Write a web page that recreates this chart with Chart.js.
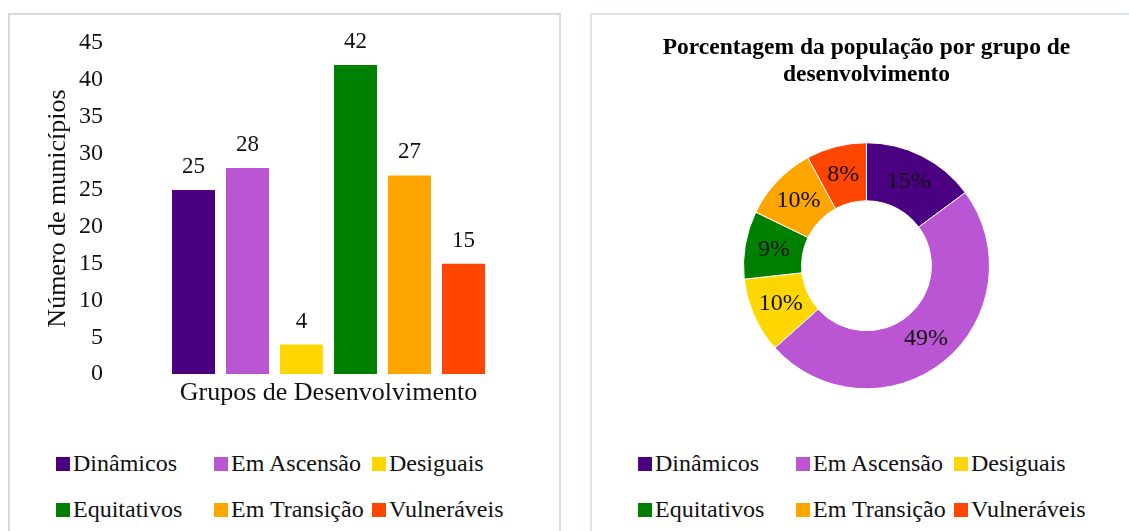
<!DOCTYPE html>
<html>
<head>
<meta charset="utf-8">
<script src="https://cdn.jsdelivr.net/npm/chart.js@4.4.1/dist/chart.umd.min.js"></script>
<style>
html, body { margin: 0; padding: 0; background: #fff; overflow: hidden; width: 1129px; height: 531px; }
.box { position: absolute; top: 13px; height: 600px; box-sizing: border-box; }
#boxL { left: 8px; width: 553px; border: 2px solid #d9d9d9; }
#boxR { left: 590px; width: 600px; border: 2px solid #dfe4ec; }
canvas { position: absolute; top: 0; }
#barChart { left: 0; }
#pieChart { left: 600px; }
.leg { position: absolute; font-family: "Liberation Serif", "Times New Roman", serif; font-size: 24px; line-height: 24px; color: #111; white-space: nowrap; }
.sw { position: absolute; width: 14px; height: 14px; }
</style>
</head>
<body>
<div class="box" id="boxL"></div>
<div class="box" id="boxR"></div>
<canvas id="barChart" width="570" height="440"></canvas>
<canvas id="pieChart" width="529" height="440"></canvas>
<div id="legends"></div>

<script>
// data
const groups = ["Dinâmicos", "Em Ascensão", "Desiguais", "Equitativos", "Em Transição", "Vulneráveis"];
const municipios = [25, 28, 4, 42, 27, 15];
const populacao = [15, 49, 10, 9, 10, 8];
const yMin = 0, yMax = 45, yStep = 5;

const colors = ["#4B0082", "#BA55D3", "#FFD700", "#008000", "#FFA500", "#FF4500"];
const serif = "'Liberation Serif', 'Times New Roman', serif";
const ink = "#111";


// value labels above the bars
const valueLabels = {
    id: "valueLabels",
    afterDatasetsDraw(chart) {
        const ctx = chart.ctx;
        ctx.save();
        ctx.font = "23px " + serif;
        ctx.fillStyle = ink;
        ctx.textAlign = "center";
        ctx.textBaseline = "alphabetic";
        chart.data.datasets.forEach((ds, i) => {
            const bar = chart.getDatasetMeta(i).data[0];
            ctx.fillText(ds.data[0], bar.x, bar.y - 17);
        });
        ctx.restore();
    }
};

// percent labels in the ring
const sliceLabels = {
    id: "sliceLabels",
    afterDatasetsDraw(chart) {
        const ctx = chart.ctx;
        ctx.save();
        ctx.font = "24px " + serif;
        ctx.fillStyle = ink;
        ctx.textAlign = "center";
        ctx.textBaseline = "middle";
        chart.getDatasetMeta(0).data.forEach((arc, i) => {
            const p = arc.getCenterPoint();
            ctx.fillText(populacao[i] + "%", p.x, p.y);
        });
        ctx.restore();
    }
};


// BAR CHART
new Chart(document.getElementById("barChart"), {
    type: "bar",
    data: {
        labels: ["Grupos de Desenvolvimento"],
        datasets: groups.map((g, i) => ({
            label: g,
            data: [municipios[i]],
            backgroundColor: colors[i],
            categoryPercentage: 0.7414,
            barPercentage: 0.796
        }))
    },
    options: {
        responsive: false,
        animation: false,
        layout: { padding: { left: 0, right: 23, top: 43, bottom: 31.4 } },
        plugins: {
            legend: { display: false },
            tooltip: { enabled: false }
        },
        scales: {
            x: {
                grid: { display: false, drawTicks: false },
                border: { display: false },
                ticks: { display: false },
                title: {
                    display: true,
                    text: "Grupos de Desenvolvimento",
                    color: ink,
                    font: { family: serif, size: 26 },
                    padding: { top: 3.4, bottom: 0 }
                }
            },
            y: {
                min: yMin,
                max: yMax,
                grid: { display: false, drawTicks: false },
                border: { display: false },
                ticks: {
                    stepSize: yStep,
                    padding: 7,
                    color: ink,
                    font: { family: serif, size: 24 }
                },
                title: {
                    display: true,
                    text: "Número de municípios",
                    color: ink,
                    font: { family: serif, size: 26 },
                    padding: { top: 42.4, bottom: 0 }
                },
                afterFit(axis) { axis.width = 110; }
            }
        }
    },
    plugins: [valueLabels]
});


// DOUGHNUT CHART
new Chart(document.getElementById("pieChart"), {
    type: "doughnut",
    data: {
        labels: groups,
        datasets: [{
            data: populacao,
            backgroundColor: colors,
            borderColor: "#fff",
            borderWidth: 1
        }]
    },
    options: {
        responsive: false,
        animation: false,
        radius: 123,
        cutout: "52.8%",
        layout: { padding: { left: 4, right: 0, top: 0, bottom: 7 } },
        plugins: {
            legend: { display: false },
            tooltip: { enabled: false },
            title: {
                display: true,
                text: ["Porcentagem da população por grupo de", "desenvolvimento"],
                color: "#000",
                font: { family: serif, size: 23.5, weight: "bold", lineHeight: 1.15 },
                padding: { top: 34.5, bottom: 10 }
            }
        }
    },
    plugins: [sliceLabels]
});


// legends (two rows of three, columns aligned)
function buildLegend(left) {
    const holder = document.getElementById("legends");
    groups.forEach((g, i) => {
        const col = i % 3, row = Math.floor(i / 3);
        const x = left + col * 158;

        const sw = document.createElement("span");
        sw.className = "sw";
        sw.style.background = colors[i];
        sw.style.left = x + "px";
        sw.style.top = (457 + row * 46) + "px";
        holder.appendChild(sw);

        const tx = document.createElement("span");
        tx.className = "leg";
        tx.textContent = g;
        tx.style.left = (x + 17) + "px";
        tx.style.top = (450.6 + row * 46) + "px";
        holder.appendChild(tx);
    });
}

buildLegend(56);
buildLegend(638);
</script>
</body>
</html>
